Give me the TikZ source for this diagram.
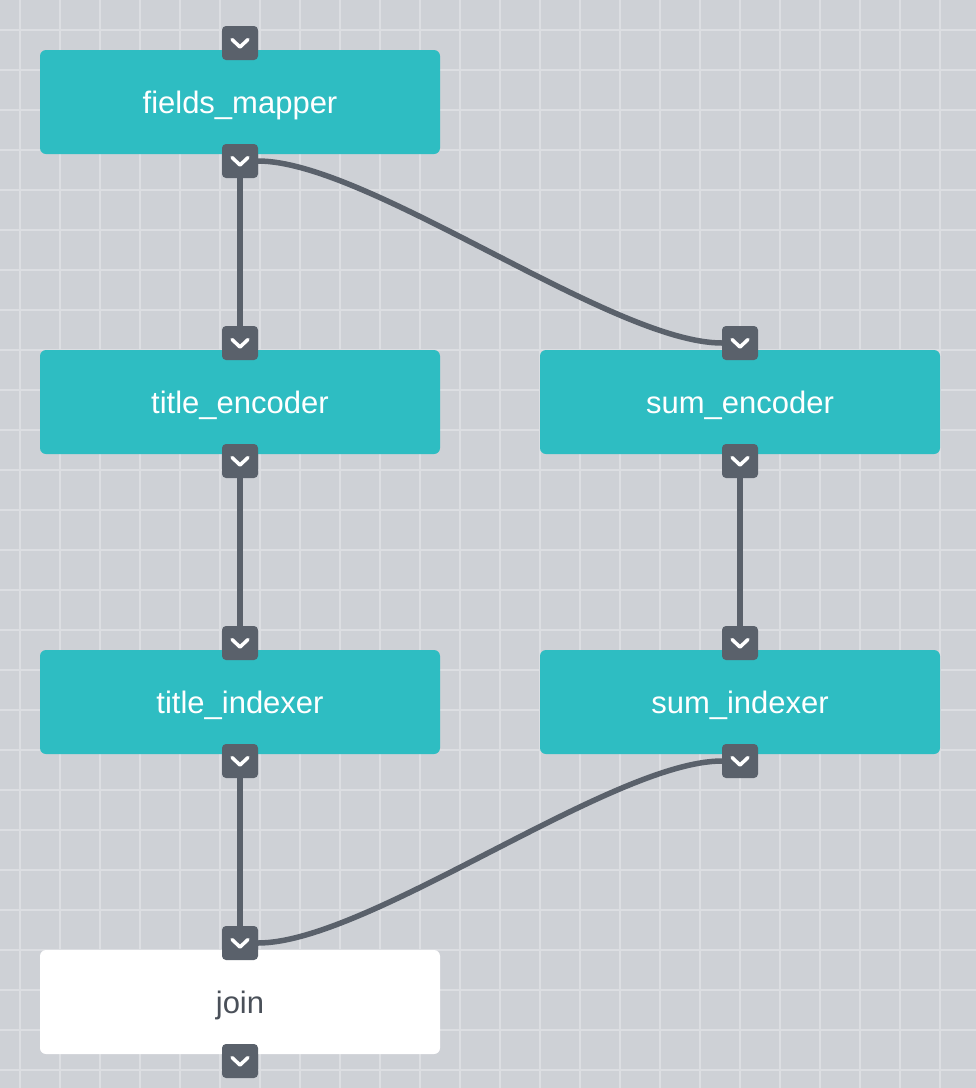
\documentclass[tikz,border=0pt]{standalone}
\usepackage{fontspec}
\setmainfont{Liberation Sans}
\usetikzlibrary{positioning}
\definecolor{canvasgray}{HTML}{CED1D6}
\definecolor{gridline}{HTML}{DCDEE2}
\definecolor{stageteal}{HTML}{2EBDC2}
\definecolor{portgray}{HTML}{5A616B}
\definecolor{jointext}{HTML}{4A5059}
\begin{document}
\begin{tikzpicture}[x=1pt, y=-1pt, node distance=196pt and 100pt,
	stage/.style={rectangle, rounded corners=6pt, minimum width=400pt, minimum height=104pt, outer sep=0pt, fill=stageteal, text=white, font=\fontsize{31}{36}\selectfont, text height=25pt, text depth=2pt},
	port/.style={rectangle, rounded corners=4pt, minimum width=36pt, minimum height=34pt, inner sep=0pt, outer sep=0pt, fill=portgray,
		path picture={\draw[white, sharp corners, line width=3.5pt, line cap=round, line join=round] ([shift={(-8pt,3.5pt)}]path picture bounding box.center) -- ([shift={(0pt,-4pt)}]path picture bounding box.center) -- ([shift={(8pt,3.5pt)}]path picture bounding box.center);}},
	link/.style={draw=portgray, line width=5.5pt}]
	\useasboundingbox (0,0) rectangle (976,1088);
	\fill[canvasgray] (0,0) rectangle (976,1088);
	\foreach \gx in {20,60,...,960} \draw[gridline, line width=2pt] (\gx,0) -- (\gx,1088);
	\foreach \gy in {30,70,...,1070} \draw[gridline, line width=2pt] (0,\gy) -- (976,\gy);
	\node[stage] (fm) at (240,102) {fields\_mapper};
	\node[stage, below=of fm] (te) {title\_encoder};
	\node[stage, right=of te] (se) {sum\_encoder};
	\node[stage, below=of te] (ti) {title\_indexer};
	\node[stage, right=of ti] (si) {sum\_indexer};
	\node[stage, below=of ti, fill=white, text=jointext] (jn) {join};
	\foreach \s in {fm,te,se,ti,si,jn} {
		\node[port] (\s-in) at ([yshift=7pt]\s.north) {};
		\node[port] (\s-out) at ([yshift=-7pt]\s.south) {};
	}
	\draw[link] (fm-out.south) -- (te-in.north);
	\draw[link] (te-out.south) -- (ti-in.north);
	\draw[link] (ti-out.south) -- (jn-in.north);
	\draw[link] (se-out.south) -- (si-in.north);
	\draw[link] (fm-out.east) .. controls +(110,0) and +(-110,0) .. (se-in.west);
	\draw[link] (jn-in.east) .. controls +(110,0) and +(-110,0) .. (si-out.west);
\end{tikzpicture}
\end{document}
